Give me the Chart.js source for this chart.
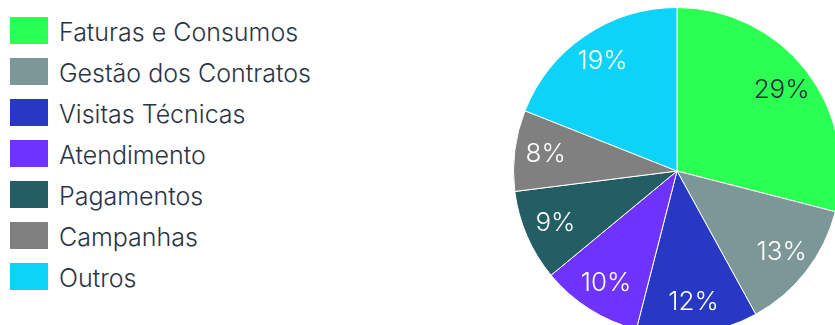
<!DOCTYPE html>
<html>
<head>
<meta charset="utf-8">
<script src="https://cdn.jsdelivr.net/npm/chart.js@4/dist/chart.umd.min.js"></script>
<style>
  html, body { margin: 0; padding: 0; background: #fff; }
  body { width: 835px; height: 325px; overflow: hidden; position: relative; font-family: Inter, sans-serif; }
  #legend { position: absolute; left: 10px; top: 17px; }
  #legend .item { display: flex; align-items: center; height: 27px; margin-bottom: 14px; }
  #legend .box { width: 38px; height: 27px; margin-right: 11px; }
  #legend .txt { font-size: 25px; font-weight: 350; color: #2b3445; line-height: 27px; position: relative; top: 2px; }
  #pie { position: absolute; left: 513px; top: 7px; }
</style>
</head>
<body>
<div id="legend"></div>
<canvas id="pie" width="328" height="328"></canvas>
<script>
const categories = ["Faturas e Consumos", "Gestão dos Contratos", "Visitas Técnicas", "Atendimento", "Pagamentos", "Campanhas", "Outros"];
const shares = [29, 13, 12, 10, 9, 8, 19];
const colors = ['#2bff52', '#7d9698', '#2638c4', '#6f33ff', '#225e63', '#808080', '#0dd3f8'];
const labelColors = ['#1f2a3a', '#ffffff', '#ffffff', '#ffffff', '#ffffff', '#ffffff', '#ffffff'];

// legend on the left
const legend = document.getElementById('legend');
categories.forEach(function (name, i) {
    const row = document.createElement('div');
    row.className = 'item';
    row.innerHTML = '<span class="box" style="background:' + colors[i] + '"></span><span class="txt">' + name + '</span>';
    legend.appendChild(row);
});

// percent text inside each slice
const sliceLabels = {
    id: 'sliceLabels',
    afterDatasetsDraw: function (chart) {
        const ctx = chart.ctx;
        const meta = chart.getDatasetMeta(0);
        ctx.save();
        ctx.font = '300 26px Inter, sans-serif';
        ctx.textAlign = 'center';
        ctx.textBaseline = 'middle';
        meta.data.forEach(function (arc, i) {
            const p = arc.getProps(['x', 'y', 'startAngle', 'endAngle', 'outerRadius'], true);
            const mid = (p.startAngle + p.endAngle) / 2;
            const r = p.outerRadius * 0.81;
            ctx.fillStyle = labelColors[i];
            ctx.fillText(shares[i] + '%', p.x + Math.cos(mid) * r, p.y + Math.sin(mid) * r);
        });
        ctx.restore();
    }
};

new Chart(document.getElementById('pie'), {
    type: 'pie',
    data: {
        labels: categories,
        datasets: [{
            data: shares,
            backgroundColor: colors,
            borderColor: '#ffffff',
            borderWidth: 1
        }]
    },
    options: {
        responsive: false,
        animation: false,
        layout: { padding: 0 },
        plugins: {
            legend: { display: false },
            tooltip: { enabled: false }
        }
    },
    plugins: [sliceLabels]
});
</script>
</body>
</html>
